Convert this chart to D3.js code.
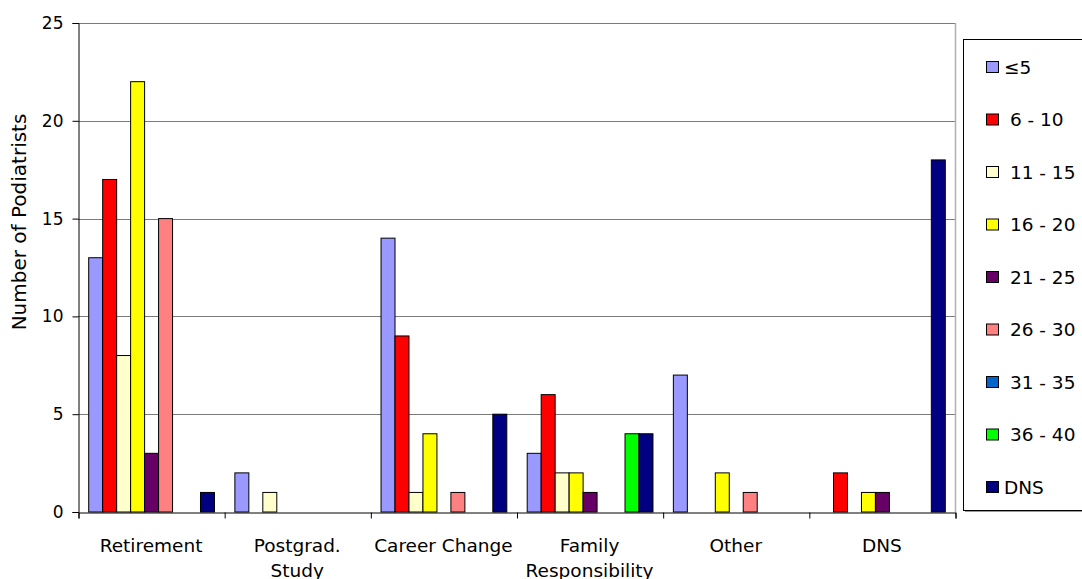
<!DOCTYPE html>
<html>
<head>
<meta charset="utf-8">
<script src="https://cdn.jsdelivr.net/npm/d3@7"></script>
<style>
  html, body { margin: 0; padding: 0; background: #fff; }
  svg { display: block; }
  text { font-family: "DejaVu Sans", sans-serif; fill: #000; }
</style>
</head>
<body>
<svg id="chart" width="1082" height="579"></svg>
<script>
const categories = ["Retirement", "Postgrad.\nStudy", "Career Change", "Family\nResponsibility", "Other", "DNS"];
const seriesNames = ["\u22645", " 6 - 10", " 11 - 15", " 16 - 20", " 21 - 25", " 26 - 30", " 31 - 35", " 36 - 40", "DNS"];
const seriesColors = ["#9999FF", "#FF0000", "#FFFFCC", "#FFFF00", "#660066", "#FF8080", "#0066CC", "#00FF00", "#000080"];
const s_le5   = [13, 2, 14, 3, 7, 0];
const s_6_10  = [17, 0, 9, 6, 0, 2];
const s_11_15 = [8, 1, 1, 2, 0, 0];
const s_16_20 = [22, 0, 4, 2, 2, 1];
const s_21_25 = [3, 0, 0, 1, 0, 1];
const s_26_30 = [15, 0, 1, 0, 1, 0];
const s_31_35 = [0, 0, 0, 0, 0, 0];
const s_36_40 = [0, 0, 0, 4, 0, 0];
const s_dns   = [1, 0, 5, 4, 0, 18];
const yTicks = [0, 5, 10, 15, 20, 25];
const yLabel = "Number of Podiatrists";

const seriesValues = [s_le5, s_6_10, s_11_15, s_16_20, s_21_25, s_26_30, s_31_35, s_36_40, s_dns];

const svg = d3.select("#chart");
const plot = { left: 78, right: 955, top: 23, bottom: 512 };

const x0 = d3.scaleBand().domain(categories).range([plot.left, plot.right]).paddingInner(0).paddingOuter(0);
const x1 = d3.scaleBand().domain(d3.range(seriesNames.length)).range([0, x0.bandwidth()]).paddingInner(0).paddingOuter(0.73);
const y = d3.scaleLinear().domain([0, 25]).range([plot.bottom, plot.top]);

// gridlines
svg.append("g").selectAll("line").data(yTicks.filter(d => d > 0)).join("line")
  .attr("x1", plot.left).attr("x2", plot.right)
  .attr("y1", d => Math.round(y(d)) + 0.5).attr("y2", d => Math.round(y(d)) + 0.5)
  .attr("stroke", "#7a7a7a").attr("stroke-width", 1.2);

// plot right border
svg.append("line").attr("x1", plot.right + 0.5).attr("x2", plot.right + 0.5)
  .attr("y1", plot.top).attr("y2", plot.bottom).attr("stroke", "#B0B0B0").attr("stroke-width", 1.5);

// bars
const groups = svg.append("g").selectAll("g").data(categories).join("g")
  .attr("transform", d => `translate(${x0(d)},0)`);
groups.selectAll("rect")
  .data((c, ci) => seriesValues.map((vals, si) => ({ si, v: vals[ci] })).filter(d => d.v > 0))
  .join("rect")
  .attr("x", d => x1(d.si) + 0.5)
  .attr("width", x1.bandwidth())
  .attr("y", d => y(d.v))
  .attr("height", d => y(0) - y(d.v))
  .attr("fill", d => seriesColors[d.si])
  .attr("stroke", "#000").attr("stroke-width", 1);

// y axis
const yAxis = svg.append("g").attr("transform", `translate(${plot.left + 0.5},0)`)
  .call(d3.axisLeft(y).tickValues(yTicks).tickSize(6).tickPadding(9).tickFormat(d3.format("d")));
yAxis.selectAll("path, line").attr("stroke", "#000");
yAxis.selectAll("text").attr("font-size", "17px").attr("font-family", "DejaVu Sans, sans-serif");

// x axis (ticks at group boundaries)
const xb = d3.scaleLinear().domain([0, categories.length]).range([plot.left, plot.right]);
const xAxis = svg.append("g").attr("transform", `translate(0.5,${plot.bottom + 0.5})`)
  .call(d3.axisBottom(xb).tickValues(d3.range(categories.length + 1)).tickSize(6).tickFormat(""));
xAxis.selectAll("path, line").attr("stroke", "#000");

// category labels
const catLabels = svg.append("g").selectAll("text").data(categories).join("text")
  .attr("x", d => x0(d) + x0.bandwidth() / 2)
  .attr("y", 552)
  .attr("text-anchor", "middle")
  .attr("font-size", "18.5px");
catLabels.each(function(d) {
  const lines = d.split("\n");
  const t = d3.select(this);
  lines.forEach((ln, i) => {
    t.append("tspan").attr("x", x0(d) + x0.bandwidth() / 2).attr("dy", i === 0 ? 0 : 25).text(ln);
  });
});

// y label
svg.append("text")
  .attr("transform", `translate(26,222) rotate(-90)`)
  .attr("text-anchor", "middle")
  .attr("font-size", "20px")
  .text(yLabel);

// legend
const lg = { x: 963, y: 39, w: 125, h: 471 };
svg.append("rect").attr("x", lg.x + 2).attr("y", lg.y + 2).attr("width", lg.w).attr("height", lg.h)
  .attr("fill", "#9a9a9a");
svg.append("rect").attr("x", lg.x + 0.5).attr("y", lg.y + 0.5).attr("width", lg.w).attr("height", lg.h)
  .attr("fill", "#fff").attr("stroke", "#000").attr("stroke-width", 1);
const ly = d3.scalePoint().domain(d3.range(seriesNames.length)).range([67, 487]);
const items = svg.append("g").selectAll("g").data(seriesNames).join("g")
  .attr("transform", (d, i) => `translate(0,${ly(i)})`);
items.append("rect").attr("x", 986.5).attr("y", -5.5).attr("width", 12).attr("height", 11)
  .attr("fill", (d, i) => seriesColors[i]).attr("stroke", "#000").attr("stroke-width", 1);
items.append("text").attr("x", 1004).attr("y", 6.5)
  .attr("font-size", "18.5px").style("white-space", "pre")
  .text(d => d);
</script>
</body>
</html>
